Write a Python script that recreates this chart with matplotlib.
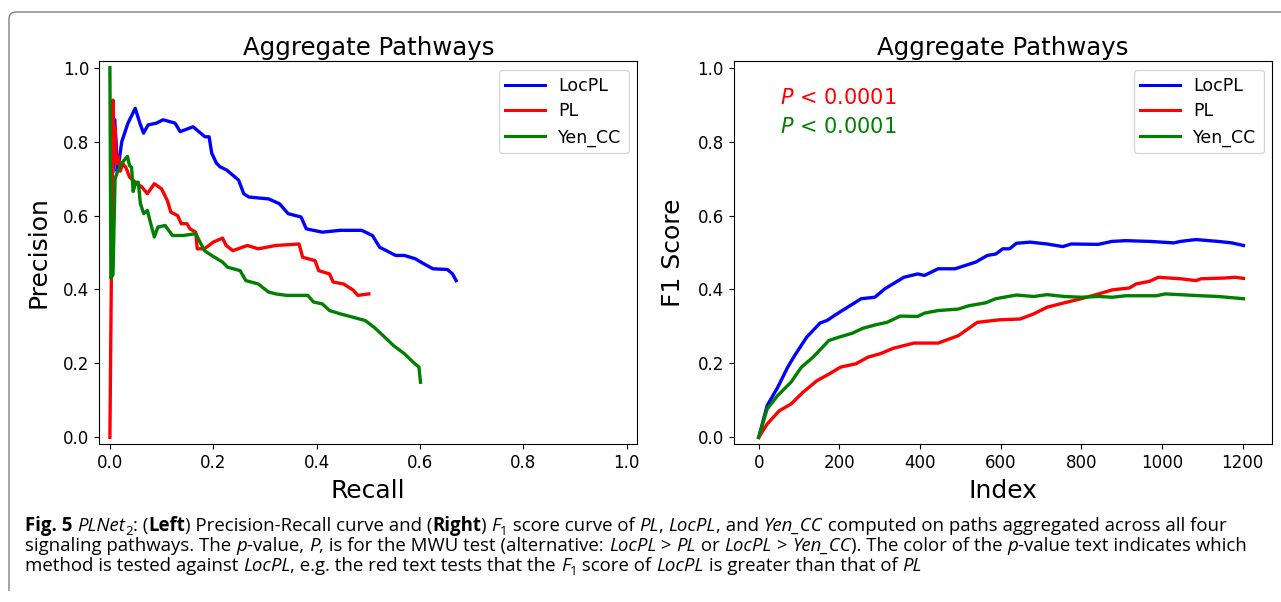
import matplotlib
matplotlib.use("Agg")
import matplotlib.pyplot as plt
from matplotlib.patches import FancyBboxPatch, Rectangle
from matplotlib.transforms import IdentityTransform

# ---------------- data ----------------
series_names = ["LocPL", "PL", "Yen_CC"]
series_colors = ["blue", "red", "green"]

# Left: precision-recall
pr_locpl_recall = [0.006, 0.009, 0.012, 0.014, 0.018, 0.023, 0.035, 0.049, 0.058, 0.065, 0.074, 0.090,
                   0.103, 0.126, 0.136, 0.161, 0.184, 0.192, 0.197, 0.206, 0.213, 0.226, 0.249, 0.259,
                   0.269, 0.307, 0.328, 0.345, 0.370, 0.380, 0.411, 0.446, 0.487, 0.508, 0.522, 0.535,
                   0.553, 0.570, 0.591, 0.608, 0.625, 0.653, 0.663, 0.670]
pr_locpl_prec = [0.72, 0.86, 0.80, 0.72, 0.75, 0.80, 0.85, 0.89, 0.85, 0.823, 0.845, 0.850,
                 0.859, 0.850, 0.827, 0.840, 0.813, 0.813, 0.769, 0.742, 0.732, 0.723, 0.696, 0.659,
                 0.650, 0.645, 0.632, 0.605, 0.596, 0.564, 0.555, 0.560, 0.560, 0.546, 0.514, 0.505,
                 0.492, 0.492, 0.483, 0.469, 0.456, 0.454, 0.442, 0.424]

pr_pl_recall = [0.0, 0.006, 0.008, 0.010, 0.012, 0.016, 0.020, 0.025, 0.031, 0.038, 0.052, 0.062,
                0.0725, 0.086, 0.100, 0.111, 0.118, 0.131, 0.138, 0.149, 0.155, 0.166, 0.169, 0.183,
                0.200, 0.218, 0.225, 0.238, 0.266, 0.287, 0.321, 0.366, 0.373, 0.397, 0.404, 0.425,
                0.432, 0.452, 0.470, 0.480, 0.501]
pr_pl_prec = [0.0, 0.912, 0.75, 0.84, 0.74, 0.76, 0.72, 0.74, 0.73, 0.704, 0.686, 0.677,
              0.659, 0.686, 0.672, 0.641, 0.609, 0.600, 0.578, 0.578, 0.564, 0.555, 0.510, 0.510,
              0.528, 0.539, 0.519, 0.505, 0.519, 0.510, 0.519, 0.523, 0.487, 0.478, 0.451, 0.442,
              0.420, 0.415, 0.399, 0.384, 0.388]

pr_yen_recall = [0.0, 0.002, 0.006, 0.010, 0.015, 0.022, 0.028, 0.034, 0.038, 0.042, 0.045, 0.050,
                 0.055, 0.059, 0.0656, 0.0725, 0.079, 0.086, 0.093, 0.107, 0.121, 0.142, 0.166, 0.173,
                 0.183, 0.197, 0.218, 0.228, 0.252, 0.263, 0.287, 0.307, 0.321, 0.342, 0.383, 0.394,
                 0.411, 0.425, 0.446, 0.470, 0.494, 0.511, 0.525, 0.549, 0.570, 0.587, 0.598, 0.601]
pr_yen_prec = [1.0, 0.43, 0.44, 0.70, 0.72, 0.74, 0.75, 0.76, 0.735, 0.73, 0.665, 0.69,
               0.69, 0.632, 0.605, 0.614, 0.578, 0.542, 0.569, 0.573, 0.546, 0.546, 0.551, 0.532,
               0.505, 0.492, 0.474, 0.460, 0.451, 0.424, 0.415, 0.393, 0.388, 0.384, 0.384, 0.366,
               0.361, 0.343, 0.334, 0.325, 0.316, 0.298, 0.280, 0.248, 0.226, 0.203, 0.190, 0.149]

# Right: F1 score vs index
f1_locpl_idx = [0, 21, 47, 72, 89, 119, 152, 169, 207, 241, 254, 288, 313, 360, 394, 411, 445, 487,
                538, 567, 588, 605, 622, 639, 673, 715, 754, 775, 842, 876, 910, 970, 1029, 1046,
                1084, 1139, 1173, 1202]
f1_locpl = [0.0, 0.086, 0.135, 0.190, 0.221, 0.271, 0.309, 0.316, 0.343, 0.366, 0.375, 0.379, 0.402,
            0.433, 0.442, 0.438, 0.456, 0.456, 0.474, 0.492, 0.496, 0.510, 0.510, 0.525, 0.528, 0.523,
            0.516, 0.523, 0.522, 0.530, 0.532, 0.530, 0.526, 0.530, 0.535, 0.530, 0.526, 0.519]

f1_pl_idx = [0, 21, 51, 80, 110, 144, 174, 203, 241, 271, 301, 334, 385, 445, 495, 542, 597, 648,
             682, 715, 758, 800, 843, 877, 919, 936, 969, 991, 1046, 1084, 1097, 1156, 1181, 1202]
f1_pl = [0.0, 0.036, 0.072, 0.090, 0.122, 0.153, 0.171, 0.190, 0.199, 0.217, 0.226, 0.241, 0.255,
         0.255, 0.275, 0.311, 0.318, 0.320, 0.334, 0.352, 0.364, 0.375, 0.388, 0.399, 0.404, 0.415,
         0.422, 0.433, 0.429, 0.424, 0.429, 0.431, 0.433, 0.430]

f1_yen_idx = [0, 21, 47, 80, 106, 135, 174, 199, 233, 258, 292, 318, 351, 394, 411, 445, 495, 521,
              563, 588, 639, 682, 715, 758, 800, 843, 877, 910, 986, 1008, 1097, 1139, 1202]
f1_yen = [0.0, 0.077, 0.113, 0.149, 0.190, 0.217, 0.262, 0.271, 0.282, 0.295, 0.305, 0.311, 0.328,
          0.327, 0.336, 0.343, 0.347, 0.356, 0.364, 0.375, 0.385, 0.381, 0.386, 0.381, 0.379, 0.381,
          0.379, 0.383, 0.383, 0.388, 0.383, 0.381, 0.375]

panel_title = "Aggregate Pathways"
pvalue_texts = ["$P$ < 0.0001", "$P$ < 0.0001"]
pvalue_colors = ["red", "green"]
left_ticks = [0.0, 0.2, 0.4, 0.6, 0.8, 1.0]
right_xticks = [0, 200, 400, 600, 800, 1000, 1200]

# ---------------- figure ----------------
W, H = 1281, 602
fig = plt.figure(figsize=(W / 100, H / 100), dpi=100)
plt.rcParams["font.family"] = ["DejaVu Sans"]


def ax_rect(l, r, t, b):
    return [l / W, 1 - b / H, (r - l) / W, (b - t) / H]


ax1 = fig.add_axes(ax_rect(99.3, 637.3, 61, 444))
ax2 = fig.add_axes(ax_rect(733.7, 1272.3, 61, 444))

lw = 2.4
ax1.plot(pr_locpl_recall, pr_locpl_prec, color=series_colors[0], lw=lw, label=series_names[0])
ax1.plot(pr_pl_recall, pr_pl_prec, color=series_colors[1], lw=lw, label=series_names[1])
ax1.plot(pr_yen_recall, pr_yen_prec, color=series_colors[2], lw=lw, label=series_names[2])
ax1.set_xlim(-0.0205, 1.0205)
ax1.set_ylim(-0.018, 1.018)
ax1.set_xticks(left_ticks)
ax1.set_yticks(left_ticks)
ax1.set_xlabel("Recall", fontsize=18, labelpad=5.5)
ax1.set_ylabel("Precision", fontsize=18, labelpad=9.5)

ax2.plot(f1_locpl_idx, f1_locpl, color=series_colors[0], lw=lw, label=series_names[0])
ax2.plot(f1_pl_idx, f1_pl, color=series_colors[1], lw=lw, label=series_names[1])
ax2.plot(f1_yen_idx, f1_yen, color=series_colors[2], lw=lw, label=series_names[2])
ax2.set_xlim(-62, 1273.5)
ax2.set_ylim(-0.018, 1.018)
ax2.set_xticks(right_xticks)
ax2.set_yticks(left_ticks)
ax2.set_xlabel("Index", fontsize=18, labelpad=5.5)
ax2.set_ylabel("F1 Score", fontsize=18, labelpad=9)

for txt, col, yb in zip(pvalue_texts, pvalue_colors, [0.888, 0.811]):
    ax2.text(0.086, yb, txt, color=col, fontsize=15, transform=ax2.transAxes,
             va="baseline", ha="left", math_fontfamily="dejavusans")

for ax in (ax1, ax2):
    ax.set_title(panel_title, fontsize=17.6, pad=4)
    ax.tick_params(labelsize=12)
    leg = ax.legend(loc="upper right", fontsize=12.5, handlelength=2.25, labelspacing=0.45,
                    framealpha=0.8, edgecolor="#cccccc")
    for ln in leg.get_lines():
        ln.set_linewidth(2.2)

# ---------------- outer border ----------------
border = FancyBboxPatch((9, -40), 1320, H - 12 + 40, boxstyle="round,pad=0,rounding_size=7",
                        transform=IdentityTransform(), facecolor="none", edgecolor="#808080",
                        lw=1.0, zorder=0)
fig.add_artist(border)
fig.add_artist(Rectangle((0, 0), W, 11, transform=IdentityTransform(), facecolor="white",
                         edgecolor="none", zorder=1))

# ---------------- caption ----------------
B, I, N = "bold", "italic", "normal"
cap_lines = [
    [("Fig. 5", B, N, False), (" ", N, N, False), ("PLNet", N, I, False), ("2", N, N, True),
     (": (", N, N, False), ("Left", B, N, False), (") Precision-Recall curve and (", N, N, False),
     ("Right", B, N, False), (") ", N, N, False), ("F", N, I, False), ("1", N, N, True),
     (" score curve of ", N, N, False), ("PL", N, I, False), (", ", N, N, False),
     ("LocPL", N, I, False), (", and ", N, N, False), ("Yen_CC", N, I, False),
     (" computed on paths aggregated across all four", N, N, False)],
    [("signaling pathways. The ", N, N, False), ("p", N, I, False), ("-value, ", N, N, False),
     ("P", N, I, False), (", is for the MWU test (alternative: ", N, N, False),
     ("LocPL", N, I, False), (" > ", N, N, False), ("PL", N, I, False), (" or ", N, N, False),
     ("LocPL", N, I, False), (" > ", N, N, False), ("Yen_CC", N, I, False),
     ("). The color of the ", N, N, False), ("p", N, I, False),
     ("-value text indicates which", N, N, False)],
    [("method is tested against ", N, N, False), ("LocPL", N, I, False),
     (", e.g. the red text tests that the ", N, N, False), ("F", N, I, False), ("1", N, N, True),
     (" score of ", N, N, False), ("LocPL", N, I, False),
     (" is greater than that of ", N, N, False), ("PL", N, I, False)],
]
cap_baselines = [531, 551, 571]
cap_x0 = 25
cap_target_w = 1222 - 25

renderer = fig.canvas.get_renderer()
CAP_FONT = "Open Sans"
_cache = {}


def measure(s, size, weight, style):
    key = (s, size, weight, style)
    if key not in _cache:
        t = fig.text(0, 0, s, fontsize=size, fontweight=weight, fontstyle=style, family=CAP_FONT)
        _cache[key] = t.get_window_extent(renderer=renderer).width
        t.remove()
    return _cache[key]


def advance(s, size, weight, style):
    # advance width of s, measured between two bars so spaces and side bearings count
    return measure("|" + s + "|", size, weight, N) - measure("||", size, weight, N) \
        if style == N else \
        measure("|" + s + "|", size, weight, style) - measure("||", size, weight, style)


def layout_line(segs, x0, base, size, draw=True):
    x = x0
    for s, weight, style, sub in segs:
        fs = size * 0.72 if sub else size
        if draw and s.strip():
            yoff = fs * 0.30 * 100 / 72 if sub else 0
            fig.text(x / W, 1 - (base + yoff) / H, s, fontsize=fs, fontweight=weight,
                     fontstyle=style, family=CAP_FONT, va="baseline", ha="left")
        x += advance(s, fs, weight, style)
    return x - x0


size0 = 12.0
w0 = layout_line(cap_lines[0], cap_x0, cap_baselines[0], size0, draw=False)
cap_size = size0 * cap_target_w / w0
for segs, base in zip(cap_lines, cap_baselines):
    layout_line(segs, cap_x0, base, cap_size)

fig.savefig("out.png", dpi=100)
